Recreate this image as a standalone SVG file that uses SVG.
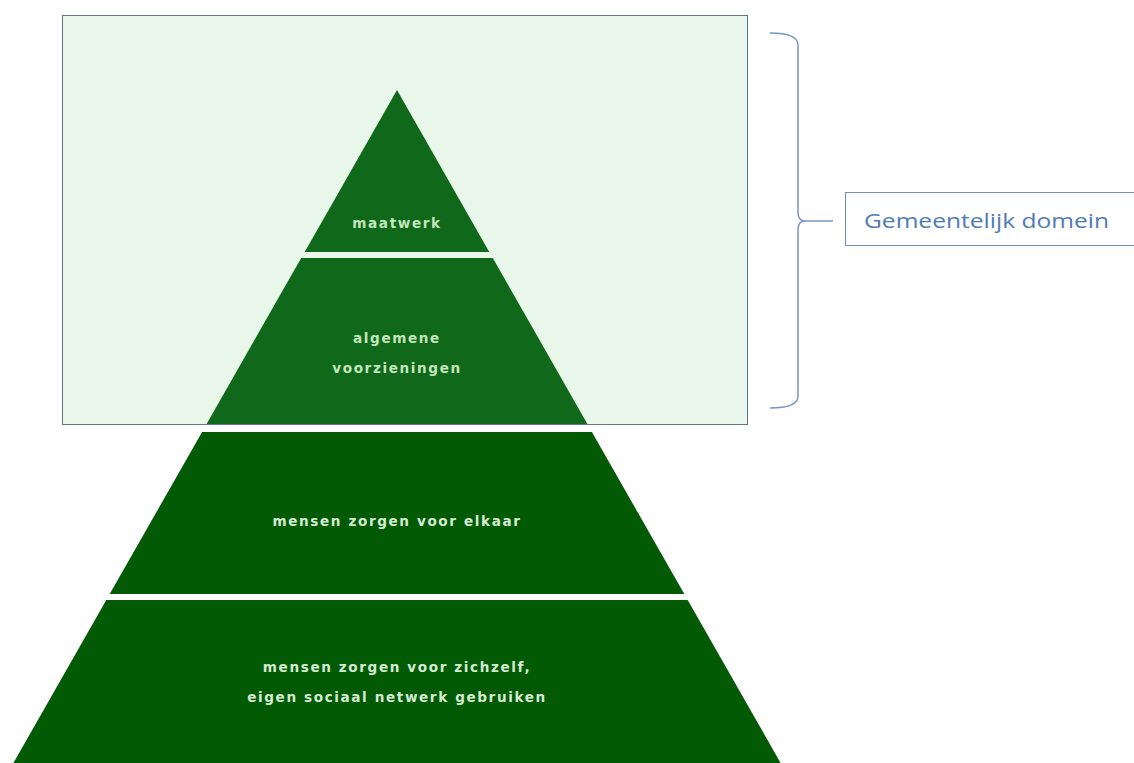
<svg xmlns="http://www.w3.org/2000/svg" width="1134" height="763" viewBox="0 0 1134 763">
<style>
.tier-top{fill:#10691a}
.tier-bot{fill:#025a05}
.lbl{font-family:"DejaVu Sans",Verdana,sans-serif;font-weight:bold;font-size:13.6px;letter-spacing:1.6px;text-anchor:middle}
.lt{fill:#c4e6bd}
.lb{fill:#d4ecd0}
.dom{font-family:"Open Sans","Liberation Sans",sans-serif;font-size:20.5px;fill:#4f7bb5}
</style>
<rect width="1134" height="763" fill="#ffffff"/>
<g id="domain-box">
<rect x="62.5" y="15.5" width="685" height="409" fill="#e9f6ea"/>
</g>
<g id="tier-maatwerk">
<polygon class="tier-top" points="397,90 489.3,252 304.7,252"/>
<text class="lbl lt" x="397" y="228">maatwerk</text>
</g>
<g id="tier-algemene">
<polygon class="tier-top" points="301.2,258 492.8,258 587.4,424 206.6,424"/>
<text class="lbl lt" x="397" y="343">algemene</text>
<text class="lbl lt" x="397" y="373">voorzieningen</text>
</g>
<g id="tier-elkaar">
<polygon class="tier-bot" points="202.1,432 591.9,432 684.3,594 109.7,594"/>
<text class="lbl lb" x="397" y="526">mensen zorgen voor elkaar</text>
</g>
<g id="tier-zichzelf">
<polygon class="tier-bot" points="106.3,600 687.7,600 780.6,763 13.4,763"/>
<text class="lbl lb" x="397" y="672">mensen zorgen voor zichzelf,</text>
<text class="lbl lb" x="397" y="702">eigen sociaal netwerk gebruiken</text>
</g>
<g id="domain-border">
<rect x="62.5" y="15.5" width="685" height="409" fill="none" stroke="#61758f" stroke-width="1"/>
</g>
<g id="connectors">
<path d="M770,33 Q798,33 798,45 L798,212 Q798,221 805,221 Q798,221 798,230 L798,396 Q798,408 770,408" fill="none" stroke="#7a97c4" stroke-width="1.5"/>
<line x1="805" y1="221" x2="833" y2="221" stroke="#7a97c4" stroke-width="1.5"/>
</g>
<g id="label-gemeentelijk">
<rect x="845.5" y="192.5" width="300" height="53" fill="#ffffff" stroke="#6f8fbd" stroke-width="1"/>
<text class="dom" x="864" y="228" textLength="245" lengthAdjust="spacingAndGlyphs">Gemeentelijk domein</text>
</g>
</svg>
